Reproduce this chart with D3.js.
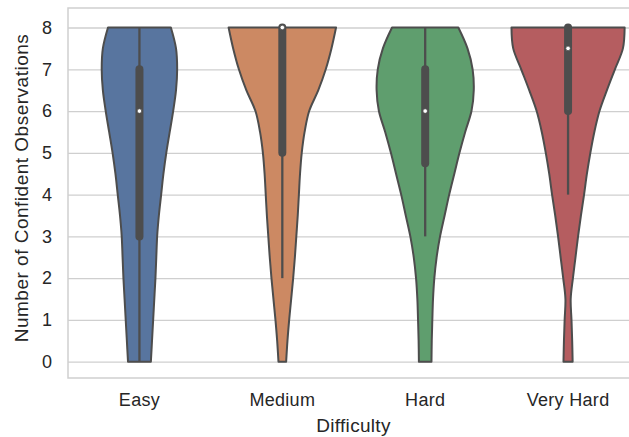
<!DOCTYPE html>
<html>
<head>
<meta charset="utf-8">
<script src="https://cdn.jsdelivr.net/npm/d3@7"></script>
<style>
  html, body { margin: 0; padding: 0; background: #fff; }
  svg { display: block; }
  text { font-family: "Liberation Sans", Arial, sans-serif; fill: #262626; }
</style>
</head>
<body>
<svg id="chart" width="629" height="437"></svg>
<script>
// ---- data ----
const categories = ["Easy", "Medium", "Hard", "Very Hard"];
const colors = ["#58759f", "#cc8963", "#5f9e6e", "#b55d60"];
const densityLevels = [0, 0.5, 1, 1.5, 2, 2.5, 3, 3.5, 4, 4.5, 5, 5.5, 6, 6.5, 7, 7.5, 8];
// relative half-widths of each violin (1 = widest allowed)
const easyDensity     = [0.20, 0.22, 0.24, 0.26, 0.28, 0.295, 0.31, 0.34, 0.38, 0.42, 0.47, 0.53, 0.59, 0.64, 0.66, 0.64, 0.55];
const mediumDensity   = [0.067, 0.09, 0.12, 0.155, 0.19, 0.22, 0.245, 0.27, 0.29, 0.31, 0.34, 0.39, 0.47, 0.63, 0.76, 0.86, 0.94];
const hardDensity     = [0.11, 0.115, 0.125, 0.137, 0.16, 0.2, 0.26, 0.34, 0.42, 0.51, 0.60, 0.70, 0.81, 0.85, 0.83, 0.74, 0.58];
const veryHardDensity = [0.08, 0.072, 0.06, 0.046, 0.085, 0.13, 0.175, 0.225, 0.28, 0.33, 0.39, 0.46, 0.55, 0.68, 0.82, 0.96, 0.99];
const densities = [easyDensity, mediumDensity, hardDensity, veryHardDensity];
// box stats: [whiskerLow, q1, median, q3, whiskerHigh]
const easyBox     = [0, 3, 6, 7, 8];
const mediumBox   = [2, 5, 8, 8, 8];
const hardBox     = [3, 4.75, 6, 7, 8];
const veryHardBox = [4, 6, 7.5, 8, 8];
const boxes = [easyBox, mediumBox, hardBox, veryHardBox];
const yTicks = [0, 1, 2, 3, 4, 5, 6, 7, 8];
const xLabel = "Difficulty";
const yLabel = "Number of Confident Observations";

// ---- layout ----
const svg = d3.select("#chart");
const mL = 68, mR = 639.5, mT = 8, mB = 378;
const x = d3.scaleBand().domain(categories).range([mL, mR]).padding(0);
const y = d3.scaleLinear().domain([-0.39, 8.467]).range([mB, mT]);
const halfMax = x.bandwidth() * 0.4;
const w = d3.scaleLinear().domain([0, 1]).range([0, halfMax]);
const gray = "#4d4d4d";
const gridColor = "#cfcfcf";

// grid
const gGrid = svg.append("g").attr("transform", `translate(${mL},0)`)
  .call(d3.axisLeft(y).tickValues(yTicks).tickSize(-(mR - mL)).tickFormat(""));
gGrid.select(".domain").remove();
gGrid.selectAll("line").attr("stroke", gridColor).attr("stroke-width", 1.3);

// spines
svg.append("rect").attr("x", mL).attr("y", mT).attr("width", mR - mL).attr("height", mB - mT)
  .attr("fill", "none").attr("stroke", gridColor).attr("stroke-width", 1.5);

// y tick labels
const gy = svg.append("g").attr("transform", `translate(${mL},0)`)
  .call(d3.axisLeft(y).tickValues(yTicks).tickSize(0).tickPadding(16).tickFormat(d3.format("d")));
gy.select(".domain").remove();
gy.selectAll("text").style("font-size", "18px").attr("fill", "#262626");

// x tick labels
const gx = svg.append("g").attr("transform", `translate(0,${mB})`)
  .call(d3.axisBottom(x).tickSize(0).tickPadding(15));
gx.select(".domain").remove();
gx.selectAll("text").style("font-size", "18px").style("letter-spacing", "0.3px").attr("fill", "#262626");

// violins
const area = d3.area()
  .curve(d3.curveCatmullRom.alpha(0.5))
  .y(d => y(d.v))
  .x0(d => d.c - w(d.d))
  .x1(d => d.c + w(d.d));

categories.forEach((cat, i) => {
  const c = x(cat) + x.bandwidth() / 2;
  const pts = densityLevels.map((v, k) => ({ v, d: densities[i][k], c }));
  svg.append("path").datum(pts)
    .attr("d", area)
    .attr("fill", colors[i])
    .attr("stroke", gray)
    .attr("stroke-width", 2)
    .attr("stroke-linejoin", "round");

  const b = boxes[i];
  svg.append("line")
    .attr("x1", c).attr("x2", c)
    .attr("y1", y(b[0])).attr("y2", y(b[4]))
    .attr("stroke", gray).attr("stroke-width", 2.3);
  svg.append("line")
    .attr("x1", c).attr("x2", c)
    .attr("y1", y(b[1])).attr("y2", y(b[3]))
    .attr("stroke", gray).attr("stroke-width", 8).attr("stroke-linecap", "round");
  svg.append("circle")
    .attr("cx", c).attr("cy", y(b[2])).attr("r", 2.3)
    .attr("fill", "#ffffff").attr("stroke", gray).attr("stroke-width", 0.8);
});

// axis labels
svg.append("text").attr("x", 353.5).attr("y", 432)
  .attr("text-anchor", "middle").style("font-size", "19px").style("letter-spacing", "0.3px").text(xLabel);
svg.append("text").attr("transform", `translate(28,188) rotate(-90)`)
  .attr("text-anchor", "middle").style("font-size", "19px").style("letter-spacing", "0.5px").text(yLabel);
</script>
</body>
</html>
